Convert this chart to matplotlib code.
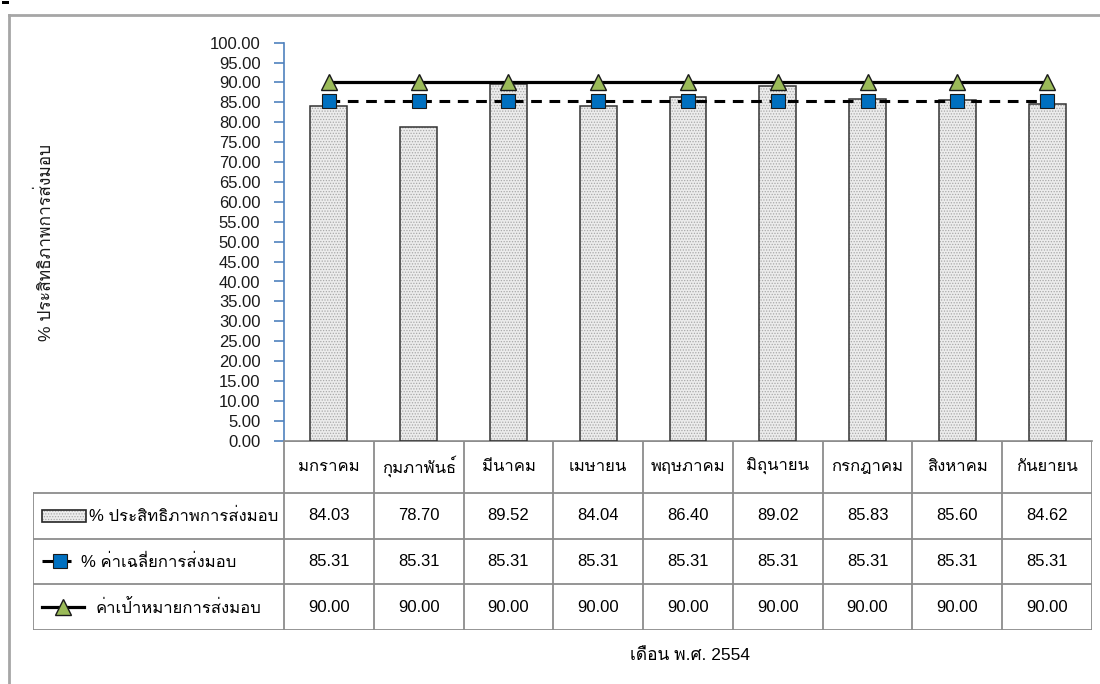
import matplotlib
matplotlib.use("Agg")
import matplotlib.pyplot as plt
from matplotlib import font_manager
from matplotlib.ft2font import FT2Font
from matplotlib.patches import Rectangle
from matplotlib.lines import Line2D

# Monthly delivery efficiency, fiscal months of 2554
months = ["มกราคม", "กุมภาพันธ์", "มีนาคม", "เมษายน", "พฤษภาคม",
          "มิถุนายน", "กรกฎาคม", "สิงหาคม", "กันยายน"]
efficiency = [84.03, 78.70, 89.52, 84.04, 86.40, 89.02, 85.83, 85.60, 84.62]
average = [85.31, 85.31, 85.31, 85.31, 85.31, 85.31, 85.31, 85.31, 85.31]
target = [90.00, 90.00, 90.00, 90.00, 90.00, 90.00, 90.00, 90.00, 90.00]

series_names = ["% ประสิทธิภาพการส่งมอบ", "% ค่าเฉลี่ยการส่งมอบ", "ค่าเป้าหมายการส่งมอบ"]
y_title = "% ประสิทธิภาพการส่งมอบ"
x_title = "เดือน พ.ศ. 2554"


def find_thai_font():
    # first installed font that actually has Thai glyphs
    seen = set()
    for f in font_manager.fontManager.ttflist:
        if f.fname in seen:
            continue
        seen.add(f.fname)
        try:
            cmap = FT2Font(f.fname).get_charmap()
        except Exception:
            continue
        if 0x0E01 in cmap and 0x0E21 in cmap:
            return f.name
    return None


thai = find_thai_font()
families = ["Liberation Sans"] + ([thai] if thai else []) + ["DejaVu Sans"]
plt.rcParams["font.family"] = families
plt.rcParams["font.size"] = 12
plt.rcParams["hatch.linewidth"] = 0.6

W, H = 1100, 684
fig = plt.figure(figsize=(W / 100, H / 100), dpi=100)


def fx(px):
    return px / W


def fy(py):
    return 1 - py / H


# outer chart frame (only top and left visible)
fig.add_artist(Line2D([fx(9), fx(9)], [fy(15), fy(684)], color="#a6a6a6", lw=2))
fig.add_artist(Line2D([fx(9), fx(1100)], [fy(15), fy(15)], color="#a6a6a6", lw=2))
fig.add_artist(Rectangle((fx(2), fy(4)), fx(7), 3 / H, color="black", lw=0))

ax_left, ax_right, ax_top, ax_bot = 284, 1092, 42.7, 440.7
ax = fig.add_axes([fx(ax_left), fy(ax_bot), fx(ax_right - ax_left), (ax_bot - ax_top) / H])

x = list(range(len(months)))
bar_w = 0.41
ax.bar(x, efficiency, width=bar_w, color="#ececec", edgecolor="#a8a8a8",
       hatch="......", linewidth=0, zorder=2)
ax.bar(x, efficiency, width=bar_w, fill=False, edgecolor="#333333",
       linewidth=1.1, zorder=3)
ax.plot(x, average, color="black", lw=2.2, ls=(0, (3.5, 2.5)), marker="s",
        markersize=10.5, markerfacecolor="#0070c0", markeredgecolor="#1a1a1a",
        markeredgewidth=0.8, zorder=4)
ax.plot(x, target, color="black", lw=2.3, marker="^", markersize=11,
        markerfacecolor="#9bbb59", markeredgecolor="#1a1a1a",
        markeredgewidth=1, zorder=5)

ax.set_xlim(-0.5, len(months) - 0.5)
ax.set_ylim(0, 100)
ax.set_yticks([i * 5 for i in range(21)])
ax.set_yticklabels([f"{i * 5:.2f}" for i in range(21)])
ax.tick_params(axis="y", direction="out", length=7, color="#4f81bd", width=1.2,
               pad=10, labelsize=12, labelcolor="#1a1a1a")
ax.set_xticks([])
for side in ["top", "right"]:
    ax.spines[side].set_visible(False)
ax.spines["left"].set_color("#4f81bd")
ax.spines["left"].set_linewidth(1.2)
ax.spines["bottom"].set_color("#8c8c8c")
ax.spines["bottom"].set_linewidth(1.2)
ax.patch.set_alpha(0)

fig.text(fx(45), fy(242), y_title, rotation=90, ha="center", va="center",
         fontsize=12.5, color="#1a1a1a")

# data table under the plot, columns aligned with the category axis
tab_left, tab_top, tab_bot = 33, 440.7, 630
col_w = (ax_right - ax_left) / len(months)
tab = fig.add_axes([fx(tab_left), fy(tab_bot), fx(ax_right - tab_left), (tab_bot - tab_top) / H])
left_data = -0.5 - (ax_left - tab_left) / col_w
tab.set_xlim(left_data, len(months) - 0.5)
tab.set_ylim(tab_bot - tab_top, 0)
tab.axis("off")

rows = [0, 52, 98, 143.5, tab_bot - tab_top]
grid = dict(color="#8c8c8c", lw=1.3)
# header row only spans the month columns
for i in range(len(months) + 1):
    tab.plot([i - 0.5, i - 0.5], [rows[0], rows[-1]], **grid)
tab.plot([left_data, left_data], [rows[1], rows[-1]], **grid)
tab.plot([-0.5, len(months) - 0.5], [rows[0], rows[0]], **grid)
for r in rows[1:]:
    tab.plot([left_data, len(months) - 0.5], [r, r], **grid)

for i, m in enumerate(months):
    tab.text(i, (rows[0] + rows[1]) / 2, m, ha="center", va="center", fontsize=12)
for r, vals in enumerate([efficiency, average, target]):
    yc = (rows[r + 1] + rows[r + 2]) / 2
    for i, v in enumerate(vals):
        tab.text(i, yc, f"{v:.2f}", ha="center", va="center", fontsize=12)


def px2x(px):
    return left_data + (px - tab_left) / col_w


# legend keys inside the first column
y1 = (rows[1] + rows[2]) / 2
tab.add_patch(Rectangle((px2x(42), y1 - 6), px2x(86) - px2x(42), 12,
                        facecolor="#ececec", edgecolor="#a8a8a8", hatch="......", lw=0))
tab.add_patch(Rectangle((px2x(42), y1 - 6), px2x(86) - px2x(42), 12,
                        fill=False, edgecolor="#262626", lw=1.2))
tab.text(px2x(89), y1, series_names[0], ha="left", va="center", fontsize=12)

y2 = (rows[2] + rows[3]) / 2
tab.plot([px2x(42), px2x(78)], [y2, y2], color="black", lw=2.2, ls=(0, (3.5, 2.5)))
tab.plot([px2x(60)], [y2], marker="s", markersize=10.5, markerfacecolor="#0070c0",
         markeredgecolor="#1a1a1a", markeredgewidth=0.8, ls="none")
tab.text(px2x(81), y2, series_names[1], ha="left", va="center", fontsize=12)

y3 = (rows[3] + rows[4]) / 2
tab.plot([px2x(42), px2x(84)], [y3, y3], color="black", lw=2.3)
tab.plot([px2x(63)], [y3], marker="^", markersize=11, markerfacecolor="#9bbb59",
         markeredgecolor="#1a1a1a", markeredgewidth=1, ls="none")
tab.text(px2x(96), y3, series_names[2], ha="left", va="center", fontsize=12)

fig.text(fx(690), fy(655), x_title, ha="center", va="center", fontsize=12.5)

fig.savefig("out.png", dpi=100, facecolor="white")
